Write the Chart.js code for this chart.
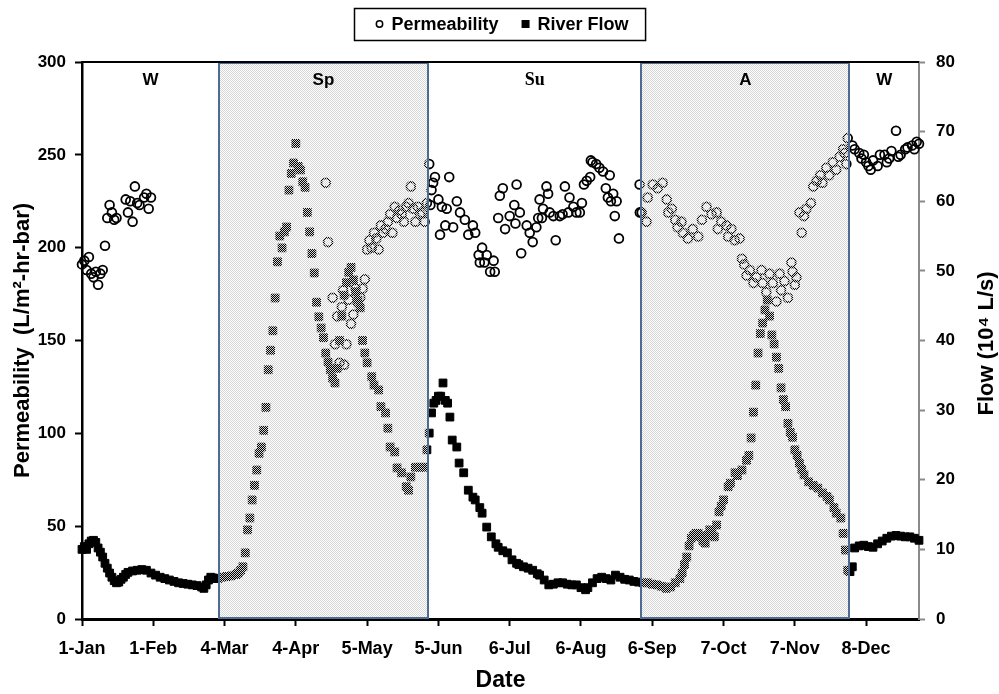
<!DOCTYPE html>
<html>
<head>
<meta charset="utf-8">
<script src="https://cdn.jsdelivr.net/npm/chart.js@4"></script>
<style>
    html, body { margin: 0; padding: 0; background: #fff; }
    #wrap { width: 999px; height: 694px; }
</style>
</head>
<body>
<div id="wrap"><canvas id="chart" width="999" height="694"></canvas></div>
<script>
// Axis ticks (day of year, 0 = 1-Jan)
const tickDays = [0, 31, 62, 93, 124, 155, 186, 217, 248, 279, 310, 341];
const tickLabels = ['1-Jan', '1-Feb', '4-Mar', '4-Apr', '5-May', '5-Jun', '6-Jul', '6-Aug', '6-Sep', '7-Oct', '7-Nov', '8-Dec'];

// Seasons
const seasonEdges = [0, 59.5, 150.5, 243.3, 333.7, 364];
const seasonNames = ['W', 'Sp', 'Su', 'A', 'W'];
const seasonShaded = [false, true, false, true, false];

// Permeability (L/m2-hr-bar)
const permDays = [
    0, 1, 2, 3, 4, 5, 6, 7, 8, 9, 10, 11, 12, 13, 14, 15, 19, 20, 21, 22, 23, 24, 25, 27, 28, 29, 30,
    106, 107, 109, 110, 111, 112, 113, 113.5, 114, 115, 116, 117, 118, 119, 120, 121, 122, 123,
    124, 125, 126, 127, 128, 129, 130, 131, 132, 133, 134, 135, 136, 137, 138, 139, 140, 141, 142, 143,
    144, 145, 146, 147, 148, 149, 150,
    151, 151.5, 152, 152.7, 153.5, 155, 155.7, 156.5, 158, 158.6, 159.7, 161.4, 163, 164.4, 166.5, 168,
    170, 171, 172.5, 173, 174, 175, 176, 177.5, 179, 179.5, 181, 181.7, 183, 184, 186, 188, 188.5, 189,
    190.4, 191, 193.4, 194.7, 196, 197.6, 198.4, 199, 200, 200.5, 202, 202.7, 203.4, 205, 206, 207.8,
    209, 210, 211.5, 212, 213.7, 215, 216.5, 217.4, 218.3, 219.5, 221, 221.3, 222, 223.6, 225, 226.6,
    227.8, 228.7, 229.5, 230, 231, 231.7, 232.5, 233.5, 242.5, 242.6,
    243.4, 245.5, 246, 248.2, 250.4, 252.5, 254.3, 255, 256.5, 258, 259, 260.7, 261.3, 263.5, 265.6,
    268, 269.6, 271.6, 273.8, 276, 276.5, 278, 280.2, 281, 282.4, 283.8, 286, 287, 288, 289, 290.4,
    292, 293.3, 295.5, 296, 297.6, 299, 300.4, 302, 303.4, 304, 305.5, 307, 308.5, 309, 310, 310.7,
    312, 313, 314, 315, 317, 318, 319.5, 321, 322, 323.7, 325, 326.5, 328, 329.5, 331, 331.6, 332.4, 333,
    335, 336, 338, 339, 340, 341, 342, 343, 344, 346, 347, 349, 350, 351, 352, 354, 355, 356, 358,
    359, 361, 362, 363, 364
];
const permValues = [
    191, 193, 188, 195, 186, 184, 187, 180, 186, 188, 201, 216, 223, 219, 215, 216, 226, 219, 225, 214, 233, 224, 223, 227, 229, 221, 227,
    235, 203, 173, 148, 163, 138, 168, 177, 137, 148, 172, 159, 164, 178, 170, 173, 178, 183,
    199, 204, 200, 208, 205, 199, 212, 208, 210, 214, 218, 208, 222, 216, 220, 218, 214, 222, 224, 233,
    221, 214, 222, 218, 219, 214, 224,
    245, 223, 231, 235, 238, 226, 207, 222, 212, 221, 238, 211, 225, 219, 215, 207,
    212, 208, 196, 192, 200, 192, 196, 187, 193, 187, 216, 228, 232, 210, 217, 223, 213, 234,
    219, 197, 212, 208, 203, 211, 216, 226, 216, 221, 233, 229, 219, 217, 204, 217,
    218, 233, 219, 227, 222, 219, 219, 224, 234, 236, 238, 247, 246, 245, 243, 241,
    232, 227, 239, 225, 229, 217, 225, 205, 234, 219,
    219, 214, 227, 234, 232, 235, 226, 219, 221, 215, 211, 214, 208, 205, 210,
    206, 215, 222, 218, 219, 210, 214, 212, 206, 210, 204, 205, 194, 191, 185, 188,
    181, 184, 188, 181, 176, 186, 181, 171, 186, 177, 182, 173, 192, 187, 180, 184,
    219, 208, 217, 221, 224, 233, 236, 239, 235, 243, 239, 246, 242, 249, 253, 251, 245, 259,
    255, 253, 251, 248, 250, 246, 244, 242, 247, 244, 250, 250, 246, 248, 252, 263, 249, 250, 253,
    254, 255, 253, 257, 256
];

// River flow (10^4 L/s)
const flowDays = [
    0, 1, 2, 3, 4, 5, 6, 7, 8, 9, 10, 11, 12, 13, 14, 15, 16, 17, 18, 19, 20, 22, 24, 26, 28, 30, 32, 34,
    36, 38, 40, 42, 44, 46, 48, 50, 52, 53, 54, 55, 56, 57, 58, 59, 61, 63, 65, 67, 68, 69, 70,
    71, 72, 73, 74, 75, 76, 77, 78, 79, 80, 81, 82, 83, 84, 85, 86, 87, 88, 89, 90, 91, 92, 93, 94, 95,
    96, 97, 98, 99, 100, 101, 102, 103, 104, 105, 106, 107, 108, 109, 110, 111, 112, 113, 114, 115, 116,
    117, 118, 119, 120, 121, 122, 123, 124, 126, 127, 129, 130, 132, 133, 134, 136, 137, 139, 141, 142,
    143, 145, 147, 149, 150, 151, 152, 153, 154, 155, 156, 157, 158, 159, 160, 161, 163, 164, 166, 168,
    170, 171, 173, 174, 176, 178, 180, 181, 183, 185, 187, 189, 190, 192, 194, 196, 198, 199, 201, 203,
    205, 207, 209, 211, 213, 215, 217, 219, 220, 222, 224, 226, 228, 230, 232, 234, 236, 238, 240, 242,
    244, 246, 248, 250, 252, 254, 256, 258, 260, 261, 262, 263, 264, 265, 266, 267, 268, 269, 270, 271,
    272, 273, 274, 275, 276, 277, 278, 279, 281, 282, 284, 285, 287, 289, 290, 291, 292, 293, 294, 295,
    296, 297, 298, 299, 300, 301, 302, 303, 304, 305, 306, 307, 308, 309, 310, 311, 312, 313, 314, 316,
    318, 320, 322, 324, 325, 327, 328, 330, 331, 332, 333, 334, 335, 336, 338, 340, 342, 344, 346, 348,
    350, 352, 354, 356, 358, 360, 362, 364
];
const flowValues = [
    10.0, 10.4, 10.0, 10.8, 11.2, 11.3, 11.0, 10.2, 9.6, 8.9, 8.0, 7.3, 6.6, 6.0, 5.5, 5.2, 5.3, 5.7, 6.0, 6.4, 6.7, 6.9, 7.0, 7.1, 7.0, 6.6, 6.3, 6.0,
    5.8, 5.6, 5.4, 5.2, 5.1, 5.0, 4.9, 4.8, 4.6, 4.4, 4.9, 5.6, 6.0, 5.9, 5.8, 5.8, 6.0, 6.1, 6.2, 6.4, 6.6, 7.0, 7.5,
    9.5, 12.8, 14.5, 17.1, 19.2, 21.4, 23.8, 24.7, 27.1, 30.4, 35.8, 38.6, 41.4, 46.1, 51.3, 55.0, 53.3, 55.6, 56.3, 61.6, 64.0, 65.5, 68.3, 65.0, 64.5,
    62.8, 62.0, 58.4, 55.6, 52.5, 49.7, 45.5, 43.4, 41.8, 40.4, 38.2, 36.9, 35.8, 34.6, 33.9, 36.0, 40.0, 43.5, 46.5, 48.3, 49.8,
    50.5, 48.7, 47.0, 45.8, 44.7, 40.0, 38.2, 36.8, 34.8, 33.6, 32.9, 30.5, 29.6, 27.4, 24.7, 24.0, 21.7, 21.0, 19.0, 18.5,
    20.4, 21.8, 21.8, 21.8, 24.3, 26.7, 29.6, 31.0, 31.4, 32.0, 32.0, 33.9, 31.4, 31.0, 29.0, 25.7, 24.7, 22.4, 21.0, 18.5,
    17.5, 17.1, 16.0, 15.2, 13.2, 11.8, 10.8, 10.3, 9.8, 9.5, 8.5, 8.0, 7.8, 7.5, 7.3, 7.0, 6.5, 6.3, 5.6, 4.9,
    5.0, 5.2, 5.2, 5.0, 4.9, 4.9, 4.5, 4.2, 4.5, 5.2, 5.8, 6.0, 5.8, 5.6, 6.3, 6.0, 5.7, 5.6, 5.4, 5.3,
    5.2, 5.2, 5.0, 4.9, 4.7, 4.4, 4.6, 5.2, 5.8, 6.6, 7.8, 8.9, 10.5, 11.6, 12.0, 12.3, 12.3, 11.8, 11.2, 10.9,
    12.0, 12.8, 12.3, 11.8, 13.5, 15.4, 16.2, 17.1, 19.0, 19.5, 21.0, 20.6, 21.4, 22.8, 23.5, 26.0, 29.7, 33.6, 38.2, 41.0,
    42.5, 44.4, 45.8, 43.5, 40.8, 39.5, 37.6, 36.0, 33.2, 31.5, 30.5, 28.1, 26.8, 26.1, 24.3, 23.5, 22.4, 21.5, 20.7, 19.7,
    19.2, 18.8, 18.1, 17.6, 17.1, 16.0, 15.2, 14.5, 12.3, 9.9, 7.0, 6.8, 7.5, 10.2, 10.5, 10.6, 10.4, 10.3, 10.8, 11.2,
    11.6, 11.9, 12.0, 11.9, 11.8, 11.8, 11.6, 11.3
];

const permTitle = 'Permeability  (L/m\u00B2-hr-bar)';
const flowTitle = 'Flow (10\u2074 L/s)';

const sansFamily = '"Liberation Sans", Arial, sans-serif';
Chart.defaults.font.family = sansFamily;
Chart.defaults.color = '#000';

// 2x2 stipple like the Excel dotted fill
function makeStipple() {
    const c = document.createElement('canvas');
    c.width = 2; c.height = 2;
    const g = c.getContext('2d');
    g.fillStyle = '#d6d6d6';
    g.fillRect(0, 0, 1, 1);
    g.fillRect(1, 1, 1, 1);
    return c;
}

const seasonPlugin = {
    id: 'seasons',
    afterDatasetsDraw(chart) {
        const { ctx, chartArea: a, scales: { x } } = chart;
        const stipple = ctx.createPattern(makeStipple(), 'repeat');
        ctx.save();
        seasonNames.forEach((name, i) => {
            if (!seasonShaded[i]) return;
            const x0 = Math.round(x.getPixelForValue(seasonEdges[i]));
            const x1 = Math.round(x.getPixelForValue(seasonEdges[i + 1]));
            ctx.fillStyle = stipple;
            ctx.fillRect(x0, a.top, x1 - x0, a.bottom - a.top - 1);
            ctx.strokeStyle = '#4d6b94';
            ctx.lineWidth = 2;
            ctx.strokeRect(x0, a.top + 1, x1 - x0, a.bottom - a.top - 2);
        });
        // top border of the plot
        ctx.strokeStyle = '#000';
        ctx.lineWidth = 2;
        ctx.beginPath();
        ctx.moveTo(a.left, a.top);
        ctx.lineTo(a.right, a.top);
        ctx.stroke();
        // season names
        ctx.fillStyle = '#000';
        ctx.textAlign = 'center';
        ctx.textBaseline = 'middle';
        seasonNames.forEach((name, i) => {
            const xm = x.getPixelForValue((seasonEdges[i] + seasonEdges[i + 1]) / 2);
            ctx.font = name === 'Su' ? 'bold 18px "Liberation Serif", "Times New Roman", serif' : 'bold 17px ' + sansFamily;
            ctx.fillText(name, xm, a.top + 18);
        });
        ctx.restore();
    },
    afterDraw(chart) {
        const { ctx, chartArea: a } = chart;
        ctx.save();
        // right axis title, reading bottom to top
        ctx.font = 'bold 22px ' + sansFamily;
        ctx.fillStyle = '#000';
        ctx.textAlign = 'center';
        ctx.textBaseline = 'middle';
        ctx.translate(987, (a.top + a.bottom) / 2 + 3);
        ctx.rotate(-Math.PI / 2);
        ctx.fillText(flowTitle, 0, 0);
        ctx.restore();

        // boxed legend
        ctx.save();
        ctx.font = 'bold 18px ' + sansFamily;
        ctx.textBaseline = 'middle';
        ctx.textAlign = 'left';
        const sets = chart.data.datasets;
        const markerW = 15, gap = 24, padL = 22, padR = 17;
        const widths = sets.map(ds => markerW + ctx.measureText(ds.label).width);
        const inner = widths.reduce((s, w) => s + w, 0) + gap * (sets.length - 1);
        const boxW = inner + padL + padR;
        const bx = Math.round(chart.width / 2 - boxW / 2) + 0.5;
        const by = 8.5, bh = 32, cy = 24;
        ctx.strokeStyle = '#000';
        ctx.lineWidth = 1.5;
        ctx.strokeRect(bx, by, boxW, bh);
        let cx = bx + padL;
        sets.forEach((ds, i) => {
            ctx.fillStyle = ds.pointStyle === 'circle' ? 'rgba(0,0,0,0)' : '#000';
            ctx.strokeStyle = '#000';
            Chart.helpers.drawPoint(ctx, {
                pointStyle: ds.pointStyle,
                radius: ds.pointStyle === 'circle' ? 3.2 : 4.6,
                borderWidth: ds.pointStyle === 'circle' ? 1.8 : 1,
                rotation: 0
            }, cx + 3, cy);
            ctx.fillStyle = '#000';
            ctx.fillText(ds.label, cx + markerW, cy + 1);
            cx += widths[i] + gap;
        });
        ctx.restore();
    }
};

const permPoints = permDays.map((d, i) => ({ x: d, y: permValues[i] }));
const flowPoints = flowDays.map((d, i) => ({ x: d, y: flowValues[i] }));

new Chart(document.getElementById('chart'), {
    type: 'scatter',
    data: {
        datasets: [{
            label: 'Permeability',
            data: permPoints,
            yAxisID: 'y',
            pointStyle: 'circle',
            pointRadius: 4.4,
            pointBorderWidth: 1.8,
            borderColor: '#000',
            backgroundColor: 'rgba(0,0,0,0)',
            clip: false
        }, {
            label: 'River Flow',
            data: flowPoints,
            yAxisID: 'y1',
            pointStyle: 'rect',
            pointRadius: 5.5,
            pointBorderWidth: 1,
            borderColor: '#000',
            backgroundColor: '#000',
            clip: false
        }]
    },
    options: {
        responsive: false,
        animation: false,
        layout: { padding: { top: 62, left: 0, right: 0, bottom: 0 } },
        plugins: {
            legend: { display: false },
            tooltip: { enabled: false }
        },
        scales: {
            x: {
                type: 'linear',
                min: 0,
                max: 364,
                afterBuildTicks: s => { s.ticks = tickDays.map(v => ({ value: v })); },
                afterFit: s => { s.height = 75; },
                ticks: {
                    callback: (v, i) => tickLabels[i],
                    font: { size: 18, weight: 'bold' },
                    color: '#000',
                    padding: 12,
                    maxRotation: 0,
                    autoSkip: false
                },
                grid: { drawOnChartArea: false, tickLength: 7, tickWidth: 2, tickColor: '#000' },
                border: { color: '#000', width: 3 },
                title: { display: true, text: 'Date', font: { size: 23, weight: 'bold' }, color: '#000', padding: 0 }
            },
            y: {
                position: 'left',
                min: 0,
                max: 300,
                afterFit: s => { s.width = 82; },
                ticks: { stepSize: 50, font: { size: 17, weight: 'bold' }, color: '#000', padding: 9 },
                grid: { drawOnChartArea: false, tickLength: 7, tickWidth: 2, tickColor: '#000' },
                border: { color: '#000', width: 2.5 },
                title: { display: true, text: permTitle, font: { size: 22, weight: 'bold' }, color: '#000', padding: { top: 10, bottom: 0 } }
            },
            y1: {
                position: 'right',
                min: 0,
                max: 80,
                afterFit: s => { s.width = 80; },
                ticks: { stepSize: 10, font: { size: 17, weight: 'bold' }, color: '#000', padding: 11 },
                grid: { drawOnChartArea: false, tickLength: 6, tickWidth: 2, tickColor: '#8a8a8a' },
                border: { color: '#8a8a8a', width: 2 }
            }
        }
    },
    plugins: [seasonPlugin]
});
</script>
</body>
</html>
